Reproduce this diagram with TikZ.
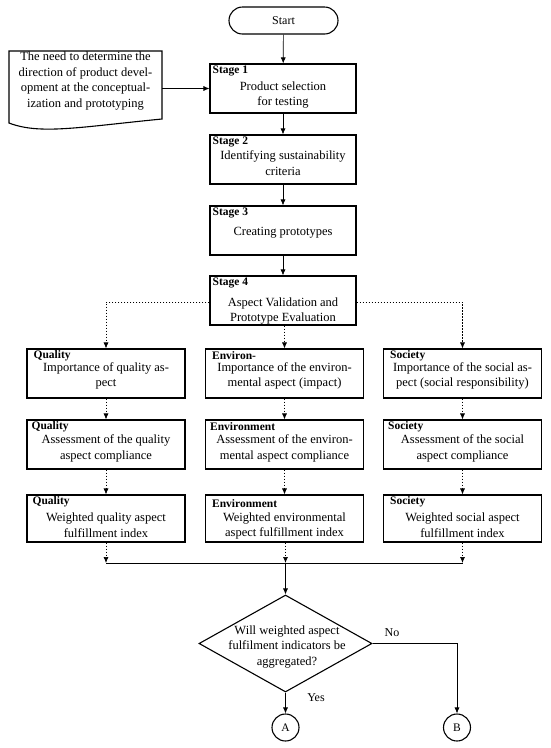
\documentclass[tikz,border=0pt]{standalone}
\usepackage{fontspec}
\setmainfont{Liberation Serif}
\usetikzlibrary{arrows.meta,shapes.geometric,calc}
\begin{document}
\begin{tikzpicture}[x=1pt,y=-1pt,
  stagebox/.style={draw, line width=1.1pt, minimum width=146pt, minimum height=49pt, inner sep=0pt},
  aspbox/.style={draw, line width=1.1pt, minimum width=158pt, minimum height=#1, inner sep=0pt},
  aspbox/.default=49pt,
  ttl/.style={font=\fontsize{11.5}{13}\selectfont\bfseries, inner sep=0pt, anchor=west},
  body/.style={font=\fontsize{12.5}{15.5}\selectfont, align=center, inner sep=0pt},
  conn/.style={line width=0.7pt, -{Latex[length=6pt,width=5pt]}},
  dconn/.style={conn, dash pattern=on 1.5pt off 1.5pt},
  plain/.style={line width=0.7pt},
  term/.style={draw, line width=1.1pt, rounded corners=13.5pt, minimum width=109pt, minimum height=27pt, inner sep=0pt, font=\fontsize{12}{14}\selectfont},
  conncirc/.style={draw, circle, line width=1.1pt, minimum size=27pt, inner sep=0pt, font=\fontsize{11.5}{13}\selectfont},
  lbl/.style={font=\fontsize{12}{14}\selectfont, inner sep=0pt}
]
\useasboundingbox (0,0) rectangle (550,748);

% start
\node[term] (start) at (283.5,20.5) {Start};

% document
\draw[line width=1.1pt] (9,51) -- (162,51) -- (162,119)
  .. controls (80,127) and (40,135) .. (9,123) -- cycle;
\node[body] (doctext) at (85.5,81) {The need to determine the\\direction of product devel-\\opment at the conceptual-\\ization and prototyping};
\coordinate (docR) at (162,88.5);

% stages
\node[stagebox] (st1) at (283,88.5) {};
\node[ttl] (st1t) at ($(st1.north west)+(3,7.5)$) {Stage 1};
\node[body] (st1b) at (283,95) {Product selection\\for testing};

\node[stagebox] (st2) at (283,159.5) {};
\node[ttl] (st2t) at ($(st2.north west)+(3,7.5)$) {Stage 2};
\node[body] (st2b) at (283,163) {Identifying sustainability\\criteria};

\node[stagebox] (st3) at (283,230.5) {};
\node[ttl] (st3t) at ($(st3.north west)+(3,7.5)$) {Stage 3};
\node[body] (st3b) at (283,233) {Creating prototypes};

\node[stagebox] (st4) at (283,300.5) {};
\node[ttl] (st4t) at ($(st4.north west)+(3,7.5)$) {Stage 4};
\node[body] (st4b) at (283,311) {Aspect Validation and\\Prototype Evaluation};

% aspect rows
\node[aspbox] (q1) at (106,373.5) {};
\node[ttl] (q1t) at ($(q1.north west)+(7,7)$) {Quality};
\node[body] (q1b) at (106,376) {Importance of quality as-\\pect};
\node[aspbox] (e1) at (284.5,373.5) {};
\node[ttl] (e1t) at ($(e1.north west)+(7,7)$) {Environ-};
\node[body] (e1b) at (284.5,376) {Importance of the environ-\\mental aspect (impact)};
\node[aspbox] (s1) at (462.5,373.5) {};
\node[ttl] (s1t) at ($(s1.north west)+(7,7)$) {Society};
\node[body] (s1b) at (462.5,376) {Importance of the social as-\\pect (social responsibility)};

\node[aspbox] (q2) at (106,444.5) {};
\node[ttl] (q2t) at ($(q2.north west)+(5,7)$) {Quality};
\node[body] (q2b) at (106,448.5) {Assessment of the quality\\aspect compliance};
\node[aspbox] (e2) at (284.5,444.5) {};
\node[ttl] (e2t) at ($(e2.north west)+(5,7.5)$) {Environment};
\node[body] (e2b) at (284.5,448.5) {Assessment of the environ-\\mental aspect compliance};
\node[aspbox] (s2) at (462.5,444.5) {};
\node[ttl] (s2t) at ($(s2.north west)+(5,7)$) {Society};
\node[body] (s2b) at (462.5,448.5) {Assessment of the social\\aspect compliance};

\node[aspbox=47pt] (q3) at (106,518.5) {};
\node[ttl] (q3t) at ($(q3.north west)+(6,7.5)$) {Quality};
\node[body] (q3b) at (106,525) {Weighted quality aspect\\fulfillment index};
\node[aspbox=47pt] (e3) at (284.5,518.5) {};
\node[ttl] (e3t) at ($(e3.north west)+(7,9)$) {Environment};
\node[body] (e3b) at (284.5,526) {Weighted environmental\\aspect fulfillment index};
\node[aspbox=47pt] (s3) at (462.5,518.5) {};
\node[ttl] (s3t) at ($(s3.north west)+(7,7.5)$) {Society};
\node[body] (s3b) at (462.5,525) {Weighted social aspect\\fulfillment index};

% decision
\node[draw, diamond, line width=1.1pt, minimum width=173pt, minimum height=97pt, inner sep=0pt] (dia) at (285.5,643.5) {};
\node[body] (diab) at (287,647) {Will weighted aspect\\fulfilment indicators be\\aggregated?};
\node[conncirc] (A) at (285.5,727.5) {A};
\node[conncirc] (B) at (457,727.5) {B};
\node[lbl] (no) at (392,633) {No};
\node[lbl] (yes) at (316,698) {Yes};

% connectors
\draw[conn] (start) -- (st1);
\draw[conn] (docR) -- (st1.west);
\draw[conn] (st1) -- (st2);
\draw[conn] (st2) -- (st3);
\draw[conn] (st3) -- (st4);

\draw[dconn] (st4.west |- 0,302) -| (q1.north);
\draw[dconn] (st4.east |- 0,302) -| (s1.north);
\draw[dconn] (e1.north |- st4.south) -- (e1.north);

\draw[dconn] (q1) -- (q2);
\draw[dconn] (e1) -- (e2);
\draw[dconn] (s1) -- (s2);
\draw[dconn] (q2) -- (q3);
\draw[dconn] (e2) -- (e3);
\draw[dconn] (s2) -- (s3);

\coordinate (m1) at (q3.south |- 0,563);
\coordinate (m2) at (dia.north |- 0,563);
\coordinate (m3) at (s3.south |- 0,563);
\draw[dconn] (q3.south) -- (m1);
\draw[dconn] (e3.south -| m2) -- (m2);
\draw[dconn] (s3.south) -- (m3);
\draw[plain] (m1) -- (m3);
\draw[conn] (m2) -- (dia.north);

\draw[conn] (dia.south) -- (A.north);
\draw[conn] (dia.east) -| (B.north);
\end{tikzpicture}
\end{document}
